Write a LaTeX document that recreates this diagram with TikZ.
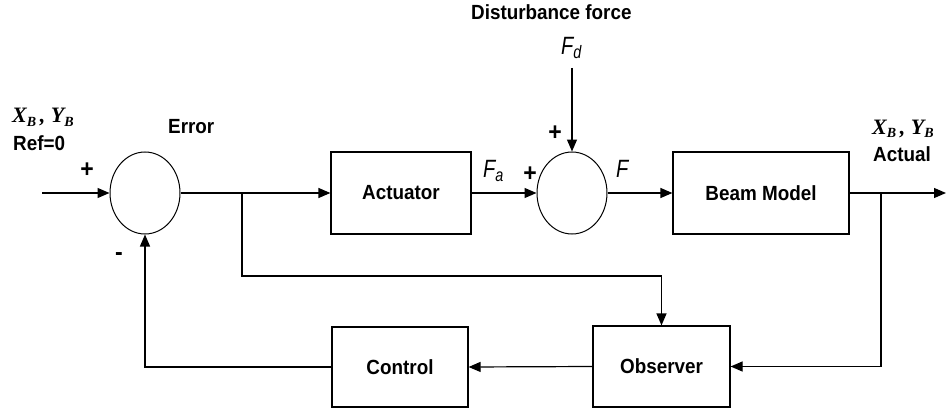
\documentclass[tikz,border=0pt]{standalone}
\usepackage{fontspec}
\setmainfont{Liberation Sans}
\newfontfamily\lblfont{Liberation Sans}[FakeStretch=0.92]
\newfontfamily\ffont{Liberation Sans}[FakeStretch=0.8]
\newfontfamily\serfont{Liberation Serif}
\usetikzlibrary{arrows.meta,shapes.geometric}
\tikzset{
  blk/.style={draw, line width=1.2pt, inner sep=0, font=\lblfont\bfseries\fontsize{20.5}{24}\selectfont},
  sumnode/.style={draw, ellipse, line width=1pt, minimum width=70pt, minimum height=82pt, inner sep=0},
  wire/.style={line width=1.2pt},
  arr/.style={wire, -{Triangle[length=12pt,width=10pt]}},
  lbl/.style={font=\lblfont\bfseries\fontsize{20.5}{24}\selectfont, inner sep=0, anchor=base west},
  sgn/.style={font=\lblfont\bfseries\fontsize{25}{28}\selectfont, inner sep=0},
  sig/.style={font=\ffont\itshape\fontsize{25}{28}\selectfont, inner sep=0, anchor=base west},
  xb/.style={font=\serfont\bfseries\itshape\fontsize{22}{24}\selectfont, inner sep=0, anchor=base west}
}
\newcommand{\sbsc}[1]{\raisebox{-4pt}{\fontsize{14}{14}\selectfont #1}}
\newcommand{\fsub}[1]{\raisebox{-4pt}{\fontsize{18}{18}\selectfont #1}}
\begin{document}
\begin{tikzpicture}[x=1pt,y=-1pt]
\useasboundingbox (0,0) rectangle (946,412);
% blocks
\node[sumnode] (s1) at (145,193) {};
\node[sumnode] (s2) at (572,193) {};
\node[blk, minimum width=140pt, minimum height=82pt] (act) at (401,193) {Actuator};
\node[blk, minimum width=176pt, minimum height=82pt] (beam) at (761,193) {Beam Model};
\node[blk, minimum width=136pt, minimum height=80pt] (ctl) at (400,367) {Control};
\node[blk, minimum width=137pt, minimum height=81pt] (obs) at (661.5,366.5) {Observer};
% coordinates
\coordinate (in) at (42,193);
\coordinate (out) at (946,193);
\coordinate (b1) at (242,193);
\coordinate (b1d) at (242,276);
\coordinate (b2) at (881,193);
\coordinate (fdtop) at (572,68);
% connectors
\draw[arr] (in) -- (s1.west);
\draw[arr] (s1.east) -- (act.west);
\draw[arr] (act.east) -- (s2.west);
\draw[arr] (s2.east) -- (beam.west);
\draw[arr] (beam.east) -- (out);
\draw[arr] (fdtop) -- (s2.north);
\draw[arr] (b1) -- (b1d) -| (obs.north);
\draw[arr] (b2) |- (obs.east);
\draw[arr] (obs.west) -- (ctl.east);
\draw[arr] (ctl.west) -| (s1.south);
% labels
\node[xb] (xbl) at (12,123) {X\sbsc{B}\,, Y\sbsc{B}};
\node[lbl] (ref) at (13,150) {Ref=0};
\node[lbl] (err) at (168,133) {Error};
\node[sgn] (p1) at (87,170) {+};
\node[sgn] (m1) at (119,257) {-};
\node[lbl] (dist) at (471,20) {Disturbance force};
\node[sig] (fd) at (561,55) {F\fsub{d}};
\node[sgn] (p2) at (555,133) {+};
\node[sig] (fa) at (483,177) {F\fsub{a}};
\node[sgn] (p3) at (530,174) {+};
\node[sig] (f) at (616,177) {F};
\node[xb] (xbr) at (872,134) {X\sbsc{B}\,, Y\sbsc{B}};
\node[lbl] (act2) at (873,161) {Actual};
\end{tikzpicture}
\end{document}
